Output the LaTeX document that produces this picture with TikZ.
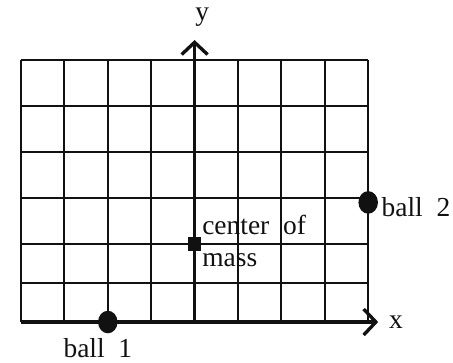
\documentclass[tikz,border=0pt]{standalone}
\usepackage{fontspec}
\setmainfont{Liberation Serif}
\usepackage{tikz}
\usetikzlibrary{positioning,arrows.meta,shapes.geometric}
\definecolor{cInk}{HTML}{111111}
\newcommand{\lblfont}{\fontsize{18}{21}\selectfont\spaceskip=0.5em\relax}
\tikzset{
  gridln/.style={cInk, line width=1.2pt},
  axis/.style={cInk, line width=2.2pt, -{Straight Barb[length=8pt,width=17pt]}},
  ball/.style={ellipse, fill=cInk, minimum width=12.8pt, minimum height=14.8pt, inner sep=0pt},
  cmdot/.style={rectangle, fill=cInk, minimum size=9pt, inner sep=0pt},
  lbl/.style={font=\lblfont, text=cInk, inner sep=0pt}
}

\begin{document}
\begin{tikzpicture}[x=1cm, y=1.06cm]
\useasboundingbox (-0.484,-0.87) rectangle (9.954,7.0);
% grid
\foreach \y in {0.85,1.7,2.7,3.7,4.7,5.7}
  \draw[gridln] (0,\y) -- (8,\y);
\foreach \x in {0,1,2,3,5,6,7,8}
  \draw[gridln] (\x,0) -- (\x,5.7);
% axes
\draw[axis] (0,0) -- (8.23,0) node[lbl, right=6pt] (xl) {x};
\draw[axis] (4,0) -- (4,6.13) node[lbl, above=8pt, xshift=5pt] (yl) {y};
% masses
\node[ball] (b1) at (2,0) {};
\node[ball] (b2) at (8,2.6) {};
\node[cmdot] (cm) at (4,1.7) {};
\node[lbl, below=3pt of b1, xshift=-6.5pt] (b1l) {ball 1};
\node[lbl, right=2pt of b2, yshift=-3pt] (b2l) {ball 2};
\node[lbl, anchor=base west] (cml) at (4.17,1.9) {center of};
\node[lbl, anchor=base west] (cml2) at (4.17,1.2) {mass};
\end{tikzpicture}
\end{document}
